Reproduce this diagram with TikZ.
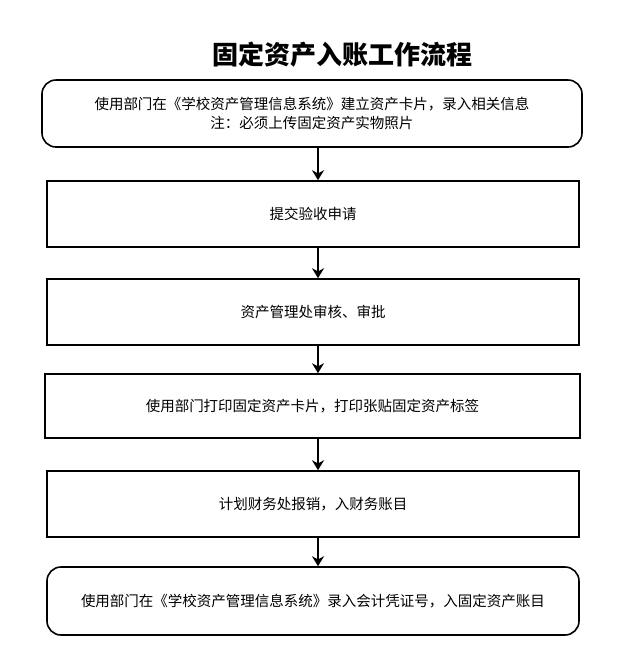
\documentclass[tikz,border=0pt]{standalone}
\usepackage{fontspec}
\setmainfont{Noto Sans CJK SC}
\usetikzlibrary{arrows.meta}
\begin{document}
\begin{tikzpicture}[x=1pt,y=-1pt,
  box/.style={draw,line width=1.6pt,minimum height=66pt,align=center,font=\fontsize{14.5}{19}\selectfont,inner sep=0pt},
  arr/.style={line width=2.6pt,-{Stealth[length=10pt,width=12pt]}}]
\useasboundingbox (0,0) rectangle (638,649);
\node[font=\fontsize{26}{30}\selectfont\bfseries] (t) at (342,55) {固定资产入账工作流程};
\node[box,rounded corners=14pt,minimum width=540pt,minimum height=67pt] (b1) at (312,113.5) {使用部门在《学校资产管理信息系统》建立资产卡片，录入相关信息\\注：必须上传固定资产实物照片};
\node[box,minimum width=532pt] (b2) at (313,214) {提交验收申请};
\node[box,minimum width=532pt] (b3) at (313,312) {资产管理处审核、审批};
\node[box,minimum width=535pt,minimum height=64pt] (b4) at (312.5,406) {使用部门打印固定资产卡片，打印张贴固定资产标签};
\node[box,minimum width=532pt] (b5) at (313,504) {计划财务处报销，入财务账目};
\node[box,rounded corners=14pt,minimum width=532pt,minimum height=68pt] (b6) at (313,601) {使用部门在《学校资产管理信息系统》录入会计凭证号，入固定资产账目};
\draw[arr] (318,147) -- (b2.north -| 318,0);
\draw[arr] (318,247) -- (b3.north -| 318,0);
\draw[arr] (318,345) -- (b4.north -| 318,0);
\draw[arr] (318,438) -- (b5.north -| 318,0);
\draw[arr] (318,537) -- (b6.north -| 318,0);
\end{tikzpicture}
\end{document}
